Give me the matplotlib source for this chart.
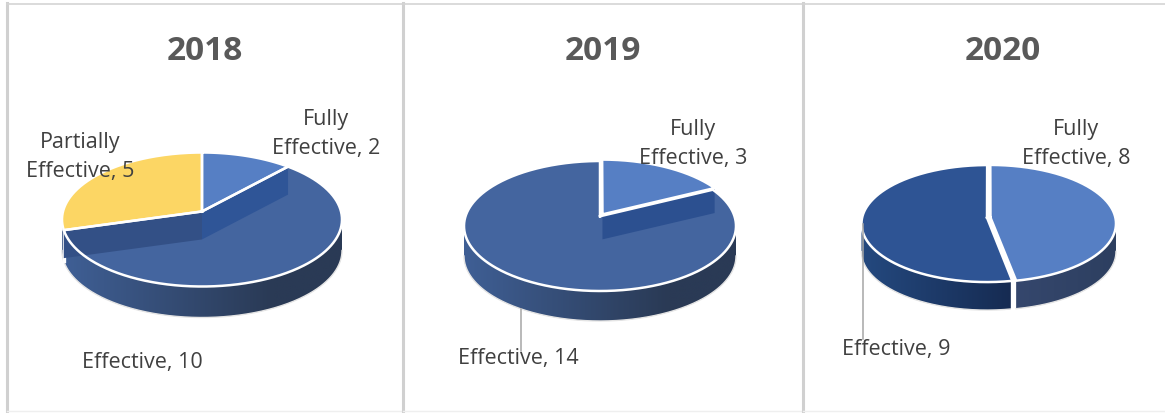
import numpy as np
import matplotlib
matplotlib.use('Agg')
import matplotlib.pyplot as plt
from matplotlib.colors import to_rgb
from matplotlib.patches import Polygon

plt.rcParams['font.family'] = ['Open Sans', 'DejaVu Sans']

years = ['2018', '2019', '2020']
categories_2018 = ['Fully Effective', 'Effective', 'Partially Effective']
values_2018 = [2, 10, 5]
categories_2019 = ['Fully Effective', 'Effective']
values_2019 = [3, 14]
categories_2020 = ['Fully Effective', 'Effective']
values_2020 = [8, 9]

# panel layout, all in pixels of the 1165x414 picture
panels = [
    dict(left=7, right=403, title_x=205, cx=202, cy=220.5, rx=140, ry=67, k=0.12, depth=31,
         top_colors=['#567fc4', '#44659f', '#fcd664'],
         walls=[('#2f5597', 28), None, ('#335086', 28)],
         side=[('#3f5f95', '#2a3a55')] * 3,
         grad_end=0.75,
         explode=[0, 0, 0],
         label_pos=[(326, 134), (142, 363), (80, 157)]),
    dict(left=403, right=803, title_x=603, cx=600, cy=227, rx=136, ry=65, k=0.15, depth=30,
         top_colors=['#567fc4', '#44659f'],
         walls=[('#2c5090', 25), None],
         side=[('#3f5f95', '#2a3a55')] * 2,
         grad_end=0.75,
         explode=[0.035, 0],
         label_pos=[(693, 144), (518, 359)],
         leader=(521, 310, 352)),
    dict(left=803, right=1165, title_x=1003, cx=988.5, cy=224.5, rx=125.5, ry=58.5, k=0.1, depth=28,
         top_colors=['#567fc4', '#2e5494'],
         walls=[None, None],
         side=[('#35476d', '#2d3f60'), ('#24497f', '#162b52')],
         grad_end=1.0,
         explode=[0.016, 0.012],
         label_pos=[(1076, 144), (896, 350)],
         leader=(863, 225, 340)),
]


def project(p, x, y):
    # circle seen in perspective, so the apex sits above the ellipse centre
    w = 1 + p['k'] * y
    sx = p['rx'] * np.sqrt(1 - p['k'] ** 2)
    sy = p['ry'] * (1 - p['k'] ** 2)
    apex_y = p['cy'] - p['ry'] * p['k']
    return p['cx'] + sx * x / w, apex_y - sy * y / w


def slice_edge(p, a, b, off):
    # a, b clockwise from 12 o'clock in radians
    t = np.linspace(a, b, max(int(abs(b - a) * 120), 2))
    return project(p, np.sin(t) + off[0], np.cos(t) + off[1])


def draw_pie(ax, p, categories, values):
    frac = np.cumsum([0] + list(values)) / sum(values)
    angles = frac * 2 * np.pi
    offs = []
    for i in range(len(values)):
        mid = (angles[i] + angles[i + 1]) / 2
        offs.append((p['explode'][i] * np.sin(mid), p['explode'][i] * np.cos(mid)))

    # side of the disc, only the part facing the viewer
    front_a = np.arccos(-p['k'])
    front_b = 2 * np.pi - front_a
    for i in range(len(values)):
        a = max(angles[i], front_a)
        b = min(angles[i + 1], front_b)
        if b <= a:
            continue
        xs, ys = slice_edge(p, a, b, offs[i])
        c0 = np.array(to_rgb(p['side'][i][0]))
        c1 = np.array(to_rgb(p['side'][i][1]))
        f = np.minimum(np.linspace(0, 1, 300) / p['grad_end'], 1)[None, :, None]
        grad = c0 + (c1 - c0) * f
        ys_all = np.r_[ys, ys + p['depth']]
        im = ax.imshow(grad, extent=(xs.min(), xs.max(), ys_all.max(), ys_all.min()),
                       aspect='auto', zorder=2, interpolation='bilinear')
        shape = Polygon(np.c_[np.r_[xs, xs[::-1]], np.r_[ys, (ys + p['depth'])[::-1]]],
                        transform=ax.transData, fc='none', ec='none')
        ax.add_patch(shape)
        im.set_clip_path(shape)
        # thin pale rim under the disc
        ax.plot(xs, ys + p['depth'], color='#e4e4e4', lw=1, zorder=2.1)
        # white gap between two slices on the side
        if a == angles[i] and a > front_a:
            ax.plot([xs[0], xs[0]], [ys[0], ys[0] + p['depth']], color='white', lw=2.4, zorder=2.2)

    # slice tops, the biggest one first
    order = np.argsort(values)[::-1]
    for i in order:
        xs, ys = slice_edge(p, angles[i], angles[i + 1], offs[i])
        ax0, ay0 = project(p, offs[i][0], offs[i][1])
        ax.fill(np.r_[ax0, xs], np.r_[ay0, ys], color=p['top_colors'][i], lw=0, zorder=3)

    # inner cut faces that show over the big slice
    for i in range(len(values)):
        if p['walls'][i] is None:
            continue
        col, h = p['walls'][i]
        ax0, ay0 = project(p, offs[i][0], offs[i][1])
        for t in (angles[i], angles[i + 1]):
            if t in (0.0, 2 * np.pi):
                continue
            ex, ey = project(p, np.sin(t) + offs[i][0], np.cos(t) + offs[i][1])
            ax.fill([ax0, ex, ex, ax0], [ay0, ey, ey + h, ay0 + h], color=col, lw=0, zorder=3.2)

    # white outlines on top
    for i in order:
        xs, ys = slice_edge(p, angles[i], angles[i + 1], offs[i])
        ax0, ay0 = project(p, offs[i][0], offs[i][1])
        ax.plot(np.r_[ax0, xs, ax0], np.r_[ay0, ys, ay0], color='white', lw=1.8, zorder=4,
                solid_joinstyle='miter')

    if 'leader' in p:
        lx, y0, y1 = p['leader']
        ax.plot([lx, lx], [y0, y1], color='#a6a6a6', lw=1.1, zorder=5)

    for i, cat in enumerate(categories):
        words = cat.split(' ')
        head = '\n'.join(words[:-1] + [''])
        txt = f"{head}{words[-1]}, {values[i]}"
        lx, ly = p['label_pos'][i]
        ax.text(lx, ly, txt, ha='center', va='center', fontsize=15.5, color='#404040',
                linespacing=1.45, zorder=6)


fig = plt.figure(figsize=(11.65, 4.14), dpi=100)
all_cats = [categories_2018, categories_2019, categories_2020]
all_vals = [values_2018, values_2019, values_2020]

for p, year, cats, vals in zip(panels, years, all_cats, all_vals):
    ax = fig.add_axes([p['left'] / 1165, (414 - 412) / 414, (p['right'] - p['left']) / 1165, 407.5 / 414])
    ax.set_xticks([])
    ax.set_yticks([])
    ax.spines['left'].set_color('#d0d0d0')
    ax.spines['left'].set_linewidth(2.2)
    ax.spines['top'].set_color('#d4d4d4')
    ax.spines['top'].set_linewidth(1.2)
    ax.spines['bottom'].set_color('#efefef')
    ax.spines['bottom'].set_linewidth(1)
    ax.spines['right'].set_visible(False)
    ax.text(p['title_x'], 51.5, year, ha='center', va='center', fontsize=24, fontweight='bold', color='#595959')
    draw_pie(ax, p, cats, vals)
    # imshow moves the limits, so set them last
    ax.set_xlim(p['left'], p['right'])
    ax.set_ylim(412, 4.5)

fig.savefig('out.png', dpi=100)
